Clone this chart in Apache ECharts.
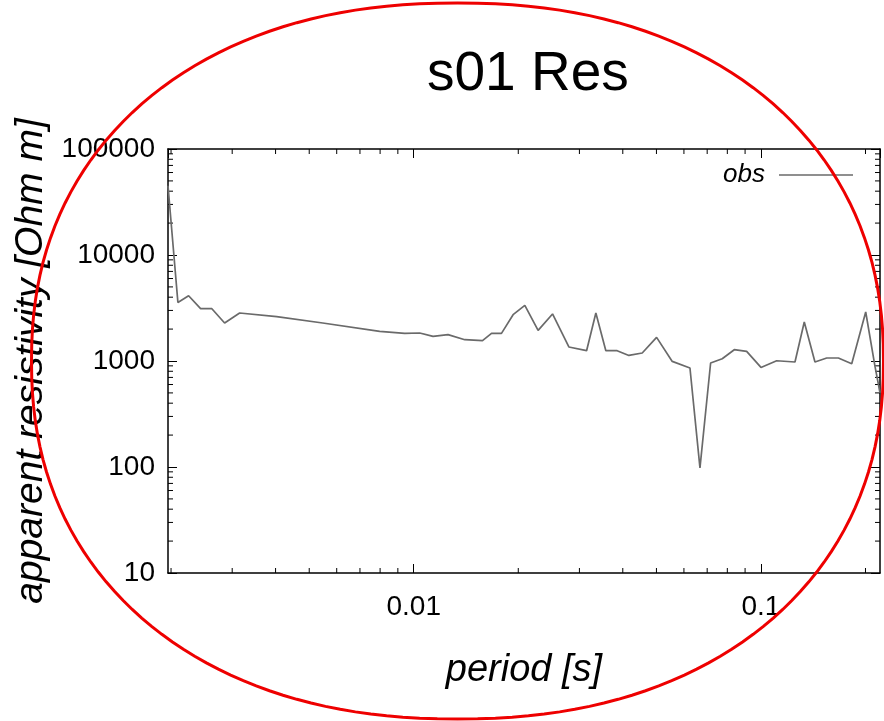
<!DOCTYPE html>
<html>
<head>
<meta charset="utf-8">
<script src="https://cdn.jsdelivr.net/npm/echarts@6/dist/echarts.min.js"></script>
<style>
  html, body { margin: 0; padding: 0; background: #fff; }
  #container { width: 884px; height: 721px; }
</style>
</head>
<body>
<div id="container"></div>
<script>
// period [s] and apparent resistivity [Ohm m]
var periods = [0.00196, 0.002093, 0.002247, 0.002433, 0.002622, 0.002853, 0.003152, 0.004029,
  0.005468, 0.00798, 0.009421, 0.010406, 0.011365, 0.012552, 0.014028, 0.015776, 0.016749,
  0.017892, 0.019326, 0.020889, 0.022814, 0.025102, 0.027975, 0.031463, 0.033458, 0.035751,
  0.038531, 0.041647, 0.045499, 0.05005, 0.055527, 0.062445, 0.066727, 0.071614, 0.077339,
  0.083757, 0.090941, 0.1, 0.11097, 0.12531, 0.13327, 0.14306, 0.15465, 0.16706, 0.18255,
  0.2003, 0.2130, 0.2202];
var rho = [45000, 3570, 4130, 3115, 3115, 2283, 2837, 2618,
  2283, 1902, 1821, 1837, 1707, 1771, 1588, 1554, 1821,
  1821, 2735, 3345, 1944, 2776, 1356, 1251, 2837, 1251,
  1251, 1129, 1190, 1670, 991, 859, 98, 957, 1051,
  1278, 1232, 870, 1006, 979, 2333, 979, 1067, 1067, 943,
  2900, 889, 502];

var xMin = 0.00196, xMax = 0.2202;
var yMin = 10, yMax = 100000;
var xMinor = [0.002, 0.003, 0.004, 0.005, 0.006, 0.007, 0.008, 0.009,
  0.02, 0.03, 0.04, 0.05, 0.06, 0.07, 0.08, 0.09, 0.2];
var yMinor = [20, 30, 40, 50, 60, 70, 80, 90, 200, 300, 400, 500, 600, 700, 800, 900,
  2000, 3000, 4000, 5000, 6000, 7000, 8000, 9000, 20000, 30000, 40000, 50000, 60000, 70000, 80000, 90000];

var obs = [];
for (var i = 0; i < periods.length; i++) {
  obs.push([periods[i], rho[i]]);
}

var font = 'Liberation Sans, Arial, sans-serif';
var dom = document.getElementById('container');
var myChart = echarts.init(dom);

function logAxis(pos, min, max, labels) {
  return {
    type: 'log',
    position: pos,
    min: min,
    max: max,
    axisLine: { show: true, lineStyle: { color: '#000', width: 1.5 } },
    axisTick: { show: true, inside: true, length: 9, lineStyle: { color: '#000', width: 1 } },
    axisLabel: {
      show: labels,
      showMinLabel: false,
      showMaxLabel: false,
      fontFamily: font,
      fontSize: 28,
      color: '#000',
      formatter: function (v) { return String(v); }
    },
    splitLine: { show: false }
  };
}

var x0 = logAxis('bottom', xMin, xMax, true);
x0.axisLabel.margin = 20;
x0.name = 'period [s]';
x0.nameLocation = 'middle';
x0.nameGap = 78;
x0.nameTextStyle = { fontFamily: font, fontSize: 38, fontStyle: 'italic', color: '#000' };
var x1 = logAxis('top', xMin, xMax, false);

var y0 = logAxis('left', yMin, yMax, true);
y0.axisLabel.showMinLabel = true;
y0.axisLabel.showMaxLabel = true;
y0.axisLabel.margin = 13;
y0.name = 'apparent resistivity [Ohm m]';
y0.nameLocation = 'middle';
y0.nameGap = 112;
y0.nameTextStyle = { fontFamily: font, fontSize: 39, fontStyle: 'italic', color: '#000' };
var y1 = logAxis('right', yMin, yMax, false);

var option = {
  animation: false,
  backgroundColor: '#fff',
  title: {
    text: 's01 Res',
    left: 422,
    top: 42,
    textStyle: { fontFamily: font, fontSize: 55, fontWeight: 'normal', color: '#000' }
  },
  legend: {
    right: 31,
    top: 162,
    padding: 0,
    align: 'right',
    icon: 'rect',
    itemWidth: 74,
    itemHeight: 1.5,
    textStyle: { fontFamily: font, fontSize: 26, fontStyle: 'italic', color: '#000', padding: [0, 9, 0, 0] },
    data: ['obs']
  },
  grid: { left: 168, right: 4, top: 149, bottom: 148, containLabel: false, outerBoundsMode: 'none' },
  xAxis: [x0, x1],
  yAxis: [y0, y1],
  series: [{
    name: 'obs',
    type: 'line',
    xAxisIndex: 0,
    yAxisIndex: 0,
    data: obs,
    symbol: 'none',
    lineStyle: { color: '#6a6a6a', width: 1.7 },
    itemStyle: { color: '#6a6a6a' }
  }]
};
myChart.setOption(option);

// minor log ticks on all four sides, placed through the axes
var gx = [];
var bottomY = myChart.convertToPixel({ yAxisIndex: 0 }, yMin);
var topY = myChart.convertToPixel({ yAxisIndex: 0 }, yMax);
var leftX = myChart.convertToPixel({ xAxisIndex: 0 }, xMin);
var rightX = myChart.convertToPixel({ xAxisIndex: 0 }, xMax);
xMinor.forEach(function (v) {
  var px = myChart.convertToPixel({ xAxisIndex: 0 }, v);
  gx.push({ type: 'line', silent: true, shape: { x1: px, y1: bottomY, x2: px, y2: bottomY - 5 }, style: { stroke: '#000', lineWidth: 1 } });
  gx.push({ type: 'line', silent: true, shape: { x1: px, y1: topY, x2: px, y2: topY + 5 }, style: { stroke: '#000', lineWidth: 1 } });
});
yMinor.forEach(function (v) {
  var py = myChart.convertToPixel({ yAxisIndex: 0 }, v);
  gx.push({ type: 'line', silent: true, shape: { x1: leftX, y1: py, x2: leftX + 5, y2: py }, style: { stroke: '#000', lineWidth: 1 } });
  gx.push({ type: 'line', silent: true, shape: { x1: rightX, y1: py, x2: rightX - 5, y2: py }, style: { stroke: '#000', lineWidth: 1 } });
});
// red hand-drawn loop over the chart (annotation, not data): a slightly squared ellipse
var loop = [];
var n = 2.2;
for (var k = 0; k < 180; k++) {
  var t = k / 180 * Math.PI * 2;
  var c = Math.cos(t), s = Math.sin(t);
  loop.push([
    457.5 + 426 * (c < 0 ? -1 : 1) * Math.pow(Math.abs(c), 2 / n),
    361 + 358 * (s < 0 ? -1 : 1) * Math.pow(Math.abs(s), 2 / n)
  ]);
}
gx.push({
  type: 'polygon',
  z: 100,
  silent: true,
  shape: { points: loop },
  style: { fill: 'none', stroke: '#ee0000', lineWidth: 3 }
});
myChart.setOption({ graphic: gx });
</script>
</body>
</html>
